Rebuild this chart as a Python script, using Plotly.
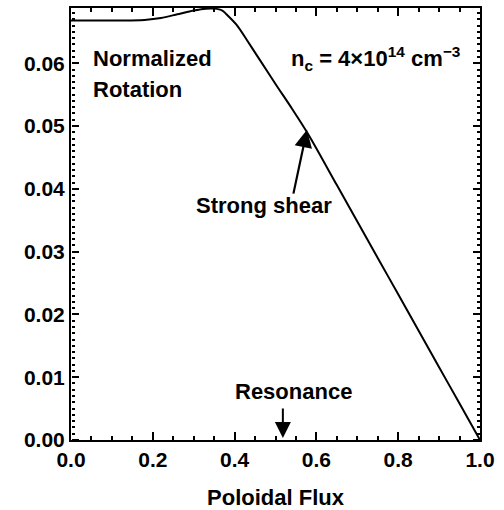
import plotly.graph_objects as go

# Data
flux = [0.0, 0.10, 0.18, 0.22, 0.26, 0.30, 0.33, 0.35, 0.37, 0.38, 0.405, 0.43,
        0.46, 0.50, 0.54, 0.58, 0.65, 0.70, 0.75, 0.80, 0.85, 0.90, 0.95, 1.0]
rotation = [0.0668, 0.0668, 0.0669, 0.0672, 0.0678, 0.0684, 0.0687, 0.0687,
            0.0684, 0.0678, 0.0661, 0.0637, 0.0607, 0.0567, 0.0528, 0.0487,
            0.0406, 0.0348, 0.0290, 0.0232, 0.0174, 0.0116, 0.0058, 0.0]

x_ticks = [0.0, 0.2, 0.4, 0.6, 0.8, 1.0]
y_ticks = [0.00, 0.01, 0.02, 0.03, 0.04, 0.05, 0.06]
x_minor_step = 0.05
y_minor_step = 0.001
x_range = [0, 1.0]
y_range = [0, 0.0688]

shear_tip = (0.577, 0.0494)
shear_tail = (0.543, 0.0390)
resonance_x = 0.518

FONT = "Liberation Sans, Arial, sans-serif"

W, H = 504, 510
ML, MR, MT, MB = 71, 24, 8, 70

fig = go.Figure()
fig.add_trace(go.Scatter(x=flux, y=rotation, mode="lines",
                         line=dict(color="black", width=2, shape="spline", smoothing=0.8),
                         showlegend=False, hoverinfo="skip"))

tickfont = dict(family=FONT, size=21, color="black", weight="bold")

fig.update_xaxes(range=x_range, tickmode="linear", tick0=x_ticks[0],
                 dtick=x_ticks[1] - x_ticks[0], tickformat=".1f",
                 ticks="", showline=True, linecolor="black", linewidth=2, mirror=True,
                 showgrid=False, zeroline=False, tickfont=tickfont,
                 title=dict(text="Poloidal Flux", standoff=22,
                            font=dict(family=FONT, size=22, color="black", weight="bold")))
fig.update_yaxes(range=y_range, tickmode="linear", tick0=y_ticks[0],
                 dtick=y_ticks[1] - y_ticks[0], tickformat=".2f",
                 ticks="", showline=True, linecolor="black", linewidth=2, mirror=True,
                 showgrid=False, zeroline=False, tickfont=tickfont)

# Inward-pointing tick marks drawn by overlay axes on the frame edges.
def tick_axis(rng, step, minor_step, side, length, minor_len, overlay,
              ticks="outside", anchor="free", pos=None):
    d = dict(overlaying=overlay, range=rng, tickmode="linear", tick0=0, dtick=step,
             ticks=ticks, ticklen=length, tickwidth=2, tickcolor="black",
             minor=dict(dtick=minor_step, ticks=ticks, ticklen=minor_len,
                        tickwidth=2, tickcolor="black", showgrid=False),
             showticklabels=False, showline=False, showgrid=False, zeroline=False,
             anchor=anchor, side=side, fixedrange=True)
    if pos is not None:
        d["position"] = pos
    return d

xmaj = x_ticks[1] - x_ticks[0]
ymaj = y_ticks[1] - y_ticks[0]
fig.update_layout(
    xaxis2=tick_axis(x_range, xmaj, x_minor_step, "bottom", 8, 4, "x",
                     ticks="inside", anchor="y"),
    xaxis3=tick_axis(x_range, xmaj, x_minor_step, "top", 8, 4, "x",
                     ticks="inside", anchor="y"),
    yaxis2=tick_axis(y_range, ymaj, y_minor_step, "right", 7, 3, "y", pos=0),
    yaxis3=tick_axis(y_range, ymaj, y_minor_step, "left", 7, 3, "y", pos=1),
)
# empty traces so the tick axes are drawn
for xa, ya in [("x2", "y"), ("x3", "y"), ("x", "y2"), ("x", "y3")]:
    fig.add_trace(go.Scatter(x=[None], y=[None], xaxis=xa, yaxis=ya, mode="lines",
                             showlegend=False, hoverinfo="skip"))

ann_font = dict(family=FONT, size=22, color="black", weight="bold")
fig.add_annotation(x=0.05, y=0.0608, xref="x", yref="y", text="Normalized",
                   showarrow=False, xanchor="left", yanchor="middle", font=ann_font)
fig.add_annotation(x=0.05, y=0.0559, xref="x", yref="y", text="Rotation",
                   showarrow=False, xanchor="left", yanchor="middle", font=ann_font)
fig.add_annotation(x=0.957, y=0.0608, xref="x", yref="y",
                   text="n<sub>c</sub> = 4×10<sup>14</sup> cm<sup>−3</sup>",
                   showarrow=False, xanchor="right", yanchor="middle", font=ann_font)
fig.add_annotation(x=0.472, y=0.0373, xref="x", yref="y", text="Strong shear",
                   showarrow=False, xanchor="center", yanchor="middle", font=ann_font)
fig.add_annotation(x=shear_tip[0], y=shear_tip[1], ax=shear_tail[0], ay=shear_tail[1],
                   xref="x", yref="y", axref="x", ayref="y", text="",
                   showarrow=True, arrowhead=2, arrowsize=1.6, arrowwidth=2.2, arrowcolor="black")
fig.add_annotation(x=0.544, y=0.0077, xref="x", yref="y", text="Resonance",
                   showarrow=False, xanchor="center", yanchor="middle", font=ann_font)
fig.add_annotation(x=resonance_x, y=0.0003, ax=resonance_x, ay=0.00525,
                   xref="x", yref="y", axref="x", ayref="y", text="",
                   showarrow=True, arrowhead=2, arrowsize=1.6, arrowwidth=2, arrowcolor="black")

fig.update_layout(width=W, height=H, margin=dict(l=ML, r=MR, t=MT, b=MB),
                  template="none",
                  plot_bgcolor="white", paper_bgcolor="white",
                  font=dict(family=FONT, color="black"))
fig.write_html("out.html")
